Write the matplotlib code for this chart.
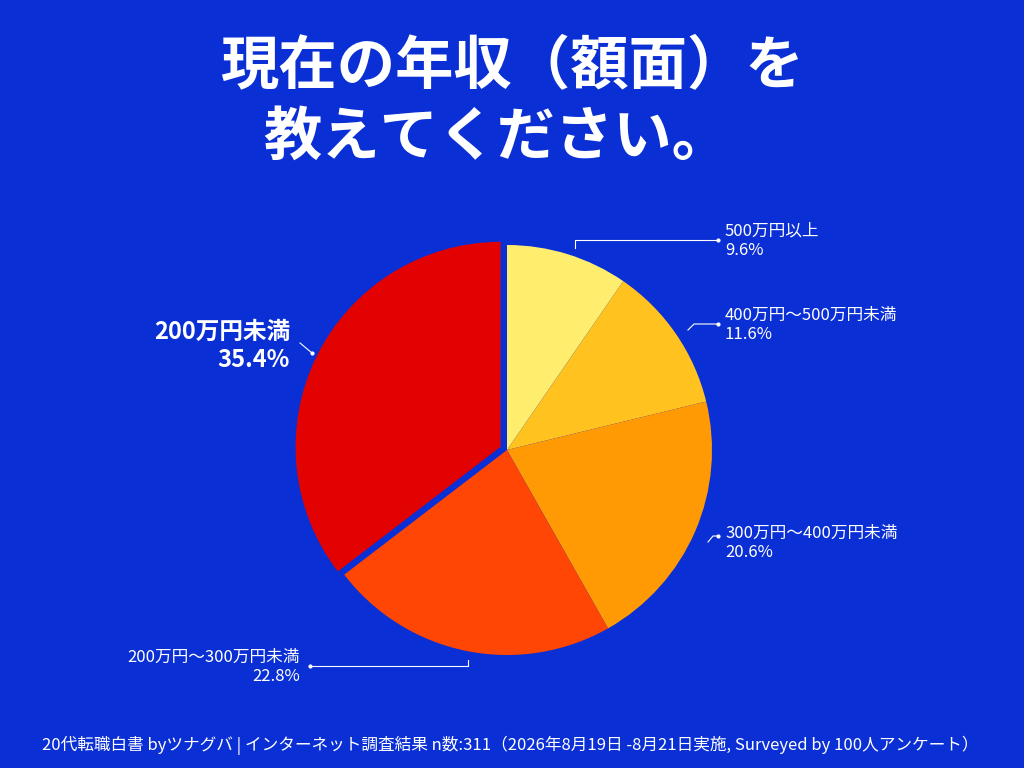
import matplotlib
matplotlib.use("Agg")
import matplotlib.pyplot as plt

plt.rcParams['font.family'] = ['Noto Sans CJK JP', 'DejaVu Sans']

labels = ["500万円以上", "400万円〜500万円未満", "300万円〜400万円未満", "200万円〜300万円未満", "200万円未満"]
values = [9.6, 11.6, 20.6, 22.8, 35.4]
colors = ["#FFEE6E", "#FFC21F", "#FF9A05", "#FF4604", "#E30202"]
explode = [0, 0, 0, 0, 0.035]
bg = "#0A2FD4"

fig = plt.figure(figsize=(10.24, 7.68), dpi=100, facecolor=bg)

cx, cy, R = 507, 450, 205
w = 560
ax = fig.add_axes([(cx - w/2)/1024, (768 - cy - w/2)/768, w/1024, w/768])
ax.set_facecolor(bg)
ax.pie(values, colors=colors, startangle=90, counterclock=False, explode=explode,
       radius=1, wedgeprops=dict(linewidth=0))
lim = w / 2 / R
ax.set_xlim(-lim, lim); ax.set_ylim(-lim, lim)
ax.set_aspect('equal'); ax.axis('off')

ov = fig.add_axes([0, 0, 1, 1], facecolor='none')
ov.set_xlim(0, 1024); ov.set_ylim(768, 0); ov.axis('off')

lc = dict(color='white', lw=0.8)
ov.plot([575, 575, 718], [248, 240, 240], **lc)
ov.plot([688, 694, 718], [330, 324, 324], **lc)
ov.plot([708, 713, 718], [542, 536, 536], **lc)
ov.plot([468, 468, 310], [660, 666, 666], **lc)
ov.plot([312, 300], [353, 343], **lc)
for (x, y) in [(718, 240), (718, 324), (718, 536), (310, 666), (312, 353)]:
    ov.plot([x], [y], 'o', color='white', ms=2)

ts = 12
ov.text(725, 241, f"{labels[0]}\n{values[0]}%", color='white', fontsize=ts, va='center', ha='left', linespacing=1.2)
ov.text(725, 325, f"{labels[1]}\n{values[1]}%", color='white', fontsize=ts, va='center', ha='left', linespacing=1.2)
ov.text(725, 543, f"{labels[2]}\n{values[2]}%", color='white', fontsize=ts, va='center', ha='left', linespacing=1.2)
ov.text(300, 667, f"{labels[3]}\n{values[3]}%", color='white', fontsize=ts, va='center', ha='right', linespacing=1.2)
ov.text(290, 346, f"{labels[4]}\n{values[4]}%", color='white', fontsize=17, fontweight='bold',
        va='center', ha='right', linespacing=1.2)

ov.text(512, 66, "現在の年収（額面）を", color='white', fontsize=42, fontweight='bold', ha='center', va='center')
ov.text(497, 138, "教えてください。", color='white', fontsize=42, fontweight='bold', ha='center', va='center')

ov.text(510, 745, "20代転職白書 byツナグバ | インターネット調査結果 n数:311（2026年8月19日 -8月21日実施, Surveyed by 100人アンケート）",
        color='white', fontsize=12, ha='center', va='center')

fig.savefig("out.png", dpi=100, facecolor=bg)
